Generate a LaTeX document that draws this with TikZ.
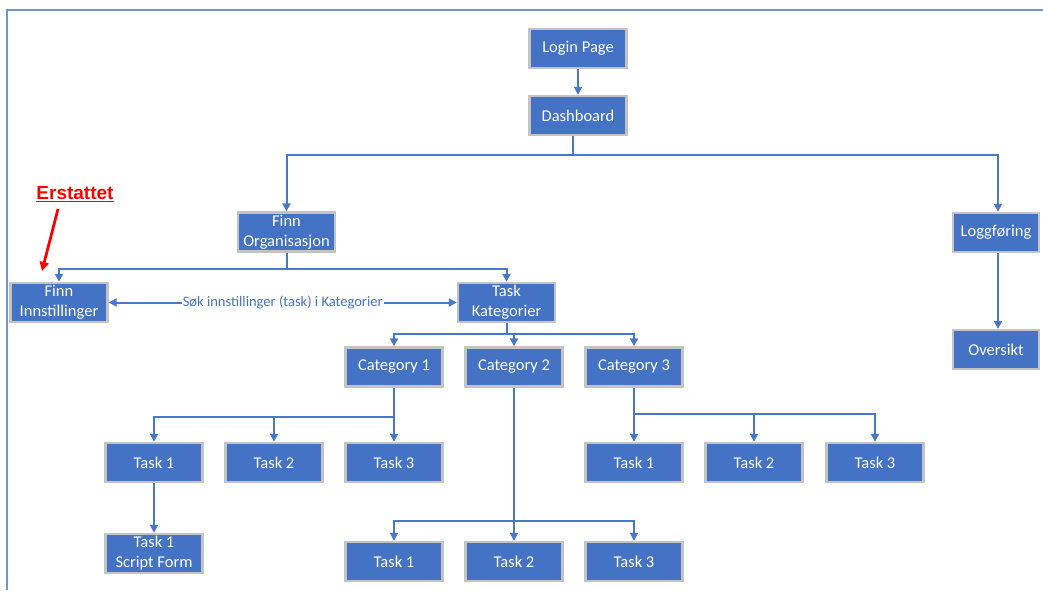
\documentclass[tikz,border=0pt]{standalone}
\usepackage{fontspec}
\setmainfont{Carlito}
\newfontfamily\arialfont{Liberation Sans}
\usetikzlibrary{arrows.meta}
\definecolor{boxblue}{HTML}{4472C4}
\definecolor{linkblue}{HTML}{4A78C8}
\definecolor{boxedge}{HTML}{C4C4C4}
\definecolor{framec}{HTML}{6F93D3}
\begin{document}
\begin{tikzpicture}[x=1pt,y=-1pt,
  pbox/.style={draw=boxedge, line width=2.4pt, fill=boxblue, text=white,
    minimum width=97pt, minimum height=39pt, inner sep=0pt, align=center,
    font=\fontsize{16.5}{20}\selectfont},
  conn/.style={draw=linkblue, line width=2pt, -{Triangle[length=8pt,width=8pt]}},
  plain/.style={draw=linkblue, line width=2pt}
]
\useasboundingbox (0,0) rectangle (1043,590);
\draw[framec, line width=1.5pt] (7,590) -- (7,10) -- (1043,10);

% nodes
\node[pbox] (login) at (578,48.5) {Login Page};
\node[pbox] (dash) at (578,115.5) {Dashboard};
\node[pbox] (finnorg) at (286.5,232) {Finn\\Organisasjon};
\node[pbox, minimum width=86pt] (logg) at (996,232.5) {Loggføring};
\node[pbox, minimum width=86pt] (overs) at (996,349.5) {Oversikt};
\node[pbox] (finninn) at (59,302.5) {Finn\\Innstillinger};
\node[pbox] (taskkat) at (506.5,302.5) {Task\\Kategorier};
\node[pbox] (cat1) at (394,367) {Category 1};
\node[pbox] (cat2) at (514,367) {Category 2};
\node[pbox] (cat3) at (634,367) {Category 3};
\node[pbox] (ta1) at (154,462.5) {Task 1};
\node[pbox] (ta2) at (274,462.5) {Task 2};
\node[pbox] (ta3) at (394,462.5) {Task 3};
\node[pbox] (tc1) at (634,462.5) {Task 1};
\node[pbox] (tc2) at (754,462.5) {Task 2};
\node[pbox] (tc3) at (875,462.5) {Task 3};
\node[pbox] (sf) at (154,553.5) {Task 1\\Script Form};
\node[pbox] (tb1) at (394,561.5) {Task 1};
\node[pbox] (tb2) at (514,561.5) {Task 2};
\node[pbox] (tb3) at (634,561.5) {Task 3};

% annotation
\node[text=red, font=\arialfont\bfseries\fontsize{19}{22}\selectfont, inner sep=1pt] (erst) at (75,194) {\underline{Erstattet}};
\coordinate (erstend) at (42,271);
\draw[red, line width=2.8pt, -{Triangle[length=9pt,width=9pt]}] (58,209) -- (erstend);

% connectors
\draw[conn] (login.south) -- (dash.north);
\draw[conn] ([xshift=-5pt]dash.south) -- ++(0,19) -| (finnorg.north);
\draw[conn] ([xshift=-5pt]dash.south) -- ++(0,19) -| ([xshift=2pt]logg.north);
\draw[conn] ([xshift=2pt]logg.south) -- ([xshift=2pt]overs.north);
\draw[conn] (finnorg.south) -- ++(0,16) -| (finninn.north);
\draw[conn] (finnorg.south) -- ++(0,16) -| (taskkat.north);
\draw[draw=linkblue, line width=2pt, {Triangle[length=8pt,width=8pt]}-{Triangle[length=8pt,width=8pt]}]
  (finninn.east) -- node[fill=white, inner sep=1pt, text=boxblue, font=\fontsize{14.5}{16}\selectfont] {Søk innstillinger (task) i Kategorier} (taskkat.west);
\draw[conn] (taskkat.south) -- ++(0,11) -| (cat1.north);
\draw[conn] (taskkat.south) -- ++(0,11) -| (cat2.north);
\draw[conn] (taskkat.south) -- ++(0,11) -| (cat3.north);
\draw[conn] (cat1.south) -- ++(0,29) -| (ta1.north);
\draw[conn] (cat1.south) -- ++(0,29) -| (ta2.north);
\draw[conn] (cat1.south) -- (ta3.north);
\draw[conn] (cat3.south) -- ++(0,26) -| (tc2.north);
\draw[conn] (cat3.south) -- ++(0,26) -| (tc3.north);
\draw[conn] (cat3.south) -- (tc1.north);
\draw[conn] (cat2.south) -- ++(0,133) -| (tb1.north);
\draw[conn] (cat2.south) -- ++(0,133) -| (tb3.north);
\draw[conn] (cat2.south) -- (tb2.north);
\draw[conn] (ta1.south) -- (sf.north);
\end{tikzpicture}
\end{document}
